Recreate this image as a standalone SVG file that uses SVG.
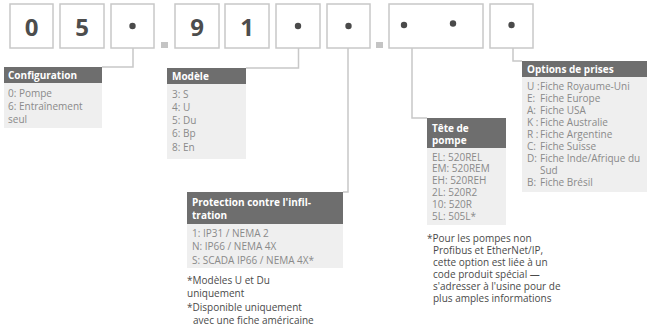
<svg xmlns="http://www.w3.org/2000/svg" width="650" height="330" viewBox="0 0 650 330">
<style>
.box{fill:#fff;stroke:#c8c8c8;stroke-width:1.5}
.dig{font-family:"Open Sans",sans-serif;font-weight:bold;font-size:24px;fill:#4d4d4d;text-anchor:middle}
.dot{fill:#4a4a4a}
.sep{fill:#c4c4c4}
.hdr{fill:#6e6e6e}
.body{fill:#efefef}
.ht{font-family:"Open Sans",sans-serif;font-weight:bold;font-size:10px;fill:#fff}
.bt{font-family:"Open Sans",sans-serif;font-size:10px;fill:#8a8a8a}
.nt{font-family:"Open Sans",sans-serif;font-size:10px;fill:#4a4a4a}
.con{fill:none;stroke:#c8c8c8;stroke-width:1.5}
</style>
<g id="code">
<rect class="box" x="10" y="4" width="43" height="44"/>
<text class="dig" x="31.5" y="35.5">0</text>
<rect class="box" x="60" y="4" width="44" height="44"/>
<text class="dig" x="82" y="35.5">5</text>
<rect class="box" x="111" y="4" width="43" height="44"/>
<circle class="dot" cx="132.5" cy="26" r="3.2"/>
<rect class="sep" x="161" y="42" width="7" height="6"/>
<rect class="box" x="175" y="4" width="44" height="44"/>
<text class="dig" x="197" y="35.5">9</text>
<rect class="box" x="225" y="4" width="44" height="44"/>
<text class="dig" x="247" y="35.5">1</text>
<rect class="box" x="276" y="4" width="44" height="44"/>
<circle class="dot" cx="298" cy="26" r="3.2"/>
<rect class="box" x="327" y="4" width="43" height="44"/>
<circle class="dot" cx="348.5" cy="26" r="3.2"/>
<rect class="sep" x="376" y="42" width="7" height="6"/>
<rect class="box" x="389" y="4" width="94" height="44"/>
<circle class="dot" cx="404" cy="25" r="3.2"/>
<circle class="dot" cx="453" cy="23.5" r="3.2"/>
<rect class="box" x="490" y="4" width="43" height="44"/>
<circle class="dot" cx="511.5" cy="25" r="3.2"/>
</g>
<g id="connectors">
<polyline class="con" points="133,48 133,67 102,67"/>
<polyline class="con" points="298.5,48 298.5,68 246,68"/>
<polyline class="con" points="348,48 348,192 343,192"/>
<polyline class="con" points="412,48 412,118 427,118"/>
<polyline class="con" points="513,48 513,61 522,61"/>
</g>
<g id="configuration">
<rect class="hdr" x="4" y="67" width="98" height="16"/>
<rect class="body" x="4" y="83" width="98" height="45"/>
<text class="ht" x="8" y="78.5">Configuration</text>
<text class="bt" x="8" y="96.5">0: Pompe</text>
<text class="bt" x="8" y="109.5">6: Entraînement</text>
<text class="bt" x="8" y="122.5">seul</text>
</g>
<g id="modele">
<rect class="hdr" x="167" y="68" width="79" height="16"/>
<rect class="body" x="167" y="84" width="79" height="75"/>
<text class="ht" x="172" y="79.5">Modèle</text>
<text class="bt" x="172" y="97.5">3: S</text>
<text class="bt" x="172" y="110.8">4: U</text>
<text class="bt" x="172" y="124.1">5: Du</text>
<text class="bt" x="172" y="137.4">6: Bp</text>
<text class="bt" x="172" y="150.7">8: En</text>
</g>
<g id="protection">
<rect class="hdr" x="187" y="192" width="156" height="32"/>
<rect class="body" x="187" y="224" width="156" height="44"/>
<text class="ht" x="192" y="205.5">Protection contre l'infil-</text>
<text class="ht" x="192" y="218.5">tration</text>
<text class="bt" x="192" y="236.5">1: IP31 / NEMA 2</text>
<text class="bt" x="192" y="250">N: IP66 / NEMA 4X</text>
<text class="bt" x="192" y="263.5">S: SCADA IP66 / NEMA 4X*</text>
<text class="nt" x="187" y="283.5">*Modèles U et Du</text>
<text class="nt" x="187" y="296.5">uniquement</text>
<text class="nt" x="187" y="310.5">*Disponible uniquement</text>
<text class="nt" x="193" y="323.5">avec une fiche américaine</text>
</g>
<g id="tete">
<rect class="hdr" x="427" y="118" width="79" height="30"/>
<rect class="body" x="427" y="148" width="79" height="77"/>
<text class="ht" x="432" y="131.5">Tête de</text>
<text class="ht" x="432" y="144">pompe</text>
<text class="bt" x="432" y="160.5">EL: 520REL</text>
<text class="bt" x="432" y="172.3">EM: 520REM</text>
<text class="bt" x="432" y="184.1">EH: 520REH</text>
<text class="bt" x="432" y="195.9">2L: 520R2</text>
<text class="bt" x="432" y="207.7">10: 520R</text>
<text class="bt" x="432" y="219.5">5L: 505L*</text>
<text class="nt" x="427" y="241.5">*Pour les pompes non</text>
<text class="nt" x="433" y="253.5">Profibus et EtherNet/IP,</text>
<text class="nt" x="433" y="265.5">cette option est liée à un</text>
<text class="nt" x="433" y="277.5">code produit spécial —</text>
<text class="nt" x="433" y="289.5">s'adresser à l'usine pour de</text>
<text class="nt" x="433" y="301.5">plus amples informations</text>
</g>
<g id="options">
<rect class="hdr" x="522" y="61" width="125" height="16"/>
<rect class="body" x="522" y="77" width="125" height="115"/>
<text class="ht" x="527" y="72.5">Options de prises</text>
<text class="bt" y="89.5"><tspan x="527">U :</tspan><tspan x="540">Fiche Royaume-Uni</tspan></text>
<text class="bt" y="101.6"><tspan x="527">E:</tspan><tspan x="540">Fiche Europe</tspan></text>
<text class="bt" y="113.7"><tspan x="527">A:</tspan><tspan x="540">Fiche USA</tspan></text>
<text class="bt" y="125.8"><tspan x="527">K :</tspan><tspan x="540">Fiche Australie</tspan></text>
<text class="bt" y="137.9"><tspan x="527">R :</tspan><tspan x="540">Fiche Argentine</tspan></text>
<text class="bt" y="150"><tspan x="527">C:</tspan><tspan x="540">Fiche Suisse</tspan></text>
<text class="bt" y="162.1"><tspan x="527">D:</tspan><tspan x="540">Fiche Inde/Afrique du</tspan></text>
<text class="bt" x="540" y="174.2">Sud</text>
<text class="bt" y="186.3"><tspan x="527">B:</tspan><tspan x="540">Fiche Brésil</tspan></text>
</g>
</svg>
